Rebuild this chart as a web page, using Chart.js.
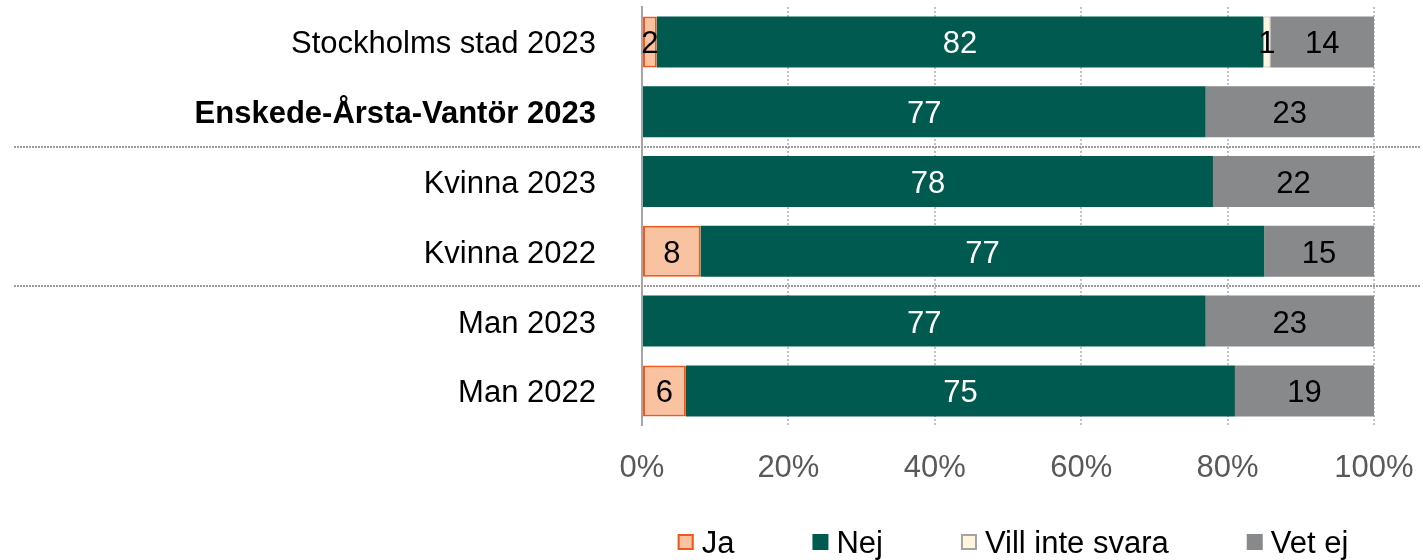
<!DOCTYPE html>
<html>
<head>
<meta charset="utf-8">
<script src="https://cdn.jsdelivr.net/npm/chart.js@4"></script>
<style>
  html, body { margin: 0; padding: 0; background: #fff; }
  #wrap { width: 1423px; height: 560px; }
</style>
</head>
<body>
<div id="wrap"><canvas id="myChart" width="1423" height="560"></canvas></div>
<script>
const categories = [
  "Stockholms stad 2023",
  "Enskede-Årsta-Vantör 2023",
  "Kvinna 2023",
  "Kvinna 2022",
  "Man 2023",
  "Man 2022",
];
const ja = [2, 0, 0, 8, 0, 6];
const nej = [82, 77, 78, 77, 77, 75];
const villInteSvara = [1, 0, 0, 0, 0, 0];
const vetEj = [14, 23, 22, 15, 23, 19];
const xTicks = [0, 20, 40, 60, 80, 100];

Chart.defaults.font.family = "'Liberation Sans', Arial, sans-serif";

// each row is shown as shares of its own total (100% stacked)
const totals = categories.map((c, i) => ja[i] + nej[i] + villInteSvara[i] + vetEj[i]);
function shares(values) {
  return values.map((v, i) => (v ? (v / totals[i]) * 100 : null));
}

const series = [
  { label: "Ja", values: ja, bg: "#F9C2A1", border: "#EE5A1E", width: 2, text: "#000" },
  { label: "Nej", values: nej, bg: "#005A4F", border: "#005A4F", width: 0, text: "#fff" },
  { label: "Vill inte svara", values: villInteSvara, bg: "#FFF5DF", border: "#A3A3A3", width: 1, text: "#000" },
  { label: "Vet ej", values: vetEj, bg: "#87898B", border: "#87898B", width: 0, text: "#000" },
];

const valueLabels = {
  id: "valueLabels",
  afterDatasetsDraw(chart) {
    const ctx = chart.ctx;
    ctx.save();
    ctx.font = "31px 'Liberation Sans', Arial, sans-serif";
    ctx.textAlign = "center";
    ctx.textBaseline = "middle";
    chart.data.datasets.forEach((ds, d) => {
      const meta = chart.getDatasetMeta(d);
      meta.data.forEach((bar, i) => {
        const raw = series[d].values[i];
        if (!raw) return;
        const p = bar.getCenterPoint();
        ctx.fillStyle = series[d].text;
        ctx.fillText(String(raw), p.x, p.y + 3);
      });
    });
    ctx.restore();
  },
};

// dotted lines between the groups of rows
const groupLines = {
  id: "groupLines",
  afterDraw(chart) {
    const y = chart.scales.y;
    const ctx = chart.ctx;
    ctx.save();
    ctx.strokeStyle = "#9C9C9C";
    ctx.lineWidth = 2;
    ctx.setLineDash([2, 1]);
    [1, 3].forEach((i) => {
      const py = Math.round((y.getPixelForValue(i) + y.getPixelForValue(i + 1)) / 2);
      ctx.beginPath();
      ctx.moveTo(14, py);
      ctx.lineTo(chart.width - 3, py);
      ctx.stroke();
    });
    ctx.restore();
  },
};

// legend centred under the plot area
const bottomLegend = {
  id: "bottomLegend",
  afterDraw(chart) {
    const ctx = chart.ctx;
    const area = chart.chartArea;
    const box = 16;
    const gap = 8;
    const spacing = 78;
    ctx.save();
    ctx.font = "31px 'Liberation Sans', Arial, sans-serif";
    ctx.textBaseline = "middle";
    const widths = series.map((s) => box + gap + ctx.measureText(s.label).width);
    const total = widths.reduce((a, b) => a + b) + spacing * (series.length - 1);
    let x = (area.left + area.right) / 2 - total / 2 + 5;
    const y = 543;
    series.forEach((s, i) => {
      ctx.fillStyle = s.bg;
      ctx.fillRect(x, y - box / 2 - 1, box, box);
      if (s.width) {
        ctx.strokeStyle = s.border;
        ctx.lineWidth = 2;
        ctx.strokeRect(x + 1, y - box / 2, box - 2, box - 2);
      }
      ctx.fillStyle = "#000";
      ctx.fillText(s.label, x + box + gap, y + 1);
      x += widths[i] + spacing;
    });
    ctx.restore();
  },
};

const data = {
  labels: categories,
  datasets: series.map((s) => ({
    label: s.label,
    data: shares(s.values),
    backgroundColor: s.bg,
    borderColor: s.border,
    borderWidth: s.width,
    borderSkipped: false,
    barPercentage: 0.73,
    categoryPercentage: 1,
  })),
};

const config = {
  type: "bar",
  data: data,
  options: {
    indexAxis: "y",
    responsive: false,
    animation: false,
    layout: { padding: { top: 7, right: 49, bottom: 49, left: 0 } },
    plugins: {
      legend: { display: false },
      tooltip: { enabled: false },
    },
    scales: {
      x: {
        stacked: true,
        min: 0,
        max: 100,
        afterBuildTicks: (scale) => {
          scale.ticks = xTicks.map((v) => ({ value: v }));
        },
        afterFit: (scale) => {
          scale.paddingLeft = 0;
          scale.paddingRight = 0;
        },
        ticks: {
          color: "#595959",
          font: { size: 31 },
          padding: 24,
          maxRotation: 0,
          callback: (v) => v + "%",
        },
        grid: {
          drawTicks: false,
          lineWidth: 2,
          color: (ctx) => (ctx.index === 0 ? "rgba(0,0,0,0)" : "#C3C3C3"),
        },
        border: { display: false, dash: [2, 2] },
      },
      y: {
        stacked: true,
        afterFit: (scale) => {
          scale.width = 642;
          scale.paddingTop = 0;
          scale.paddingBottom = 0;
        },
        ticks: {
          color: "#000",
          padding: 46,
          labelOffset: 3,
          font: (ctx) => ({ size: 31, weight: ctx.index === 1 ? "bold" : "normal" }),
        },
        grid: { display: false, drawTicks: false },
        border: { display: true, color: "#A6A6A6", width: 2 },
      },
    },
  },
  plugins: [valueLabels, groupLines, bottomLegend],
};

let myChart = new Chart(document.getElementById("myChart"), config);
</script>
</body>
</html>
